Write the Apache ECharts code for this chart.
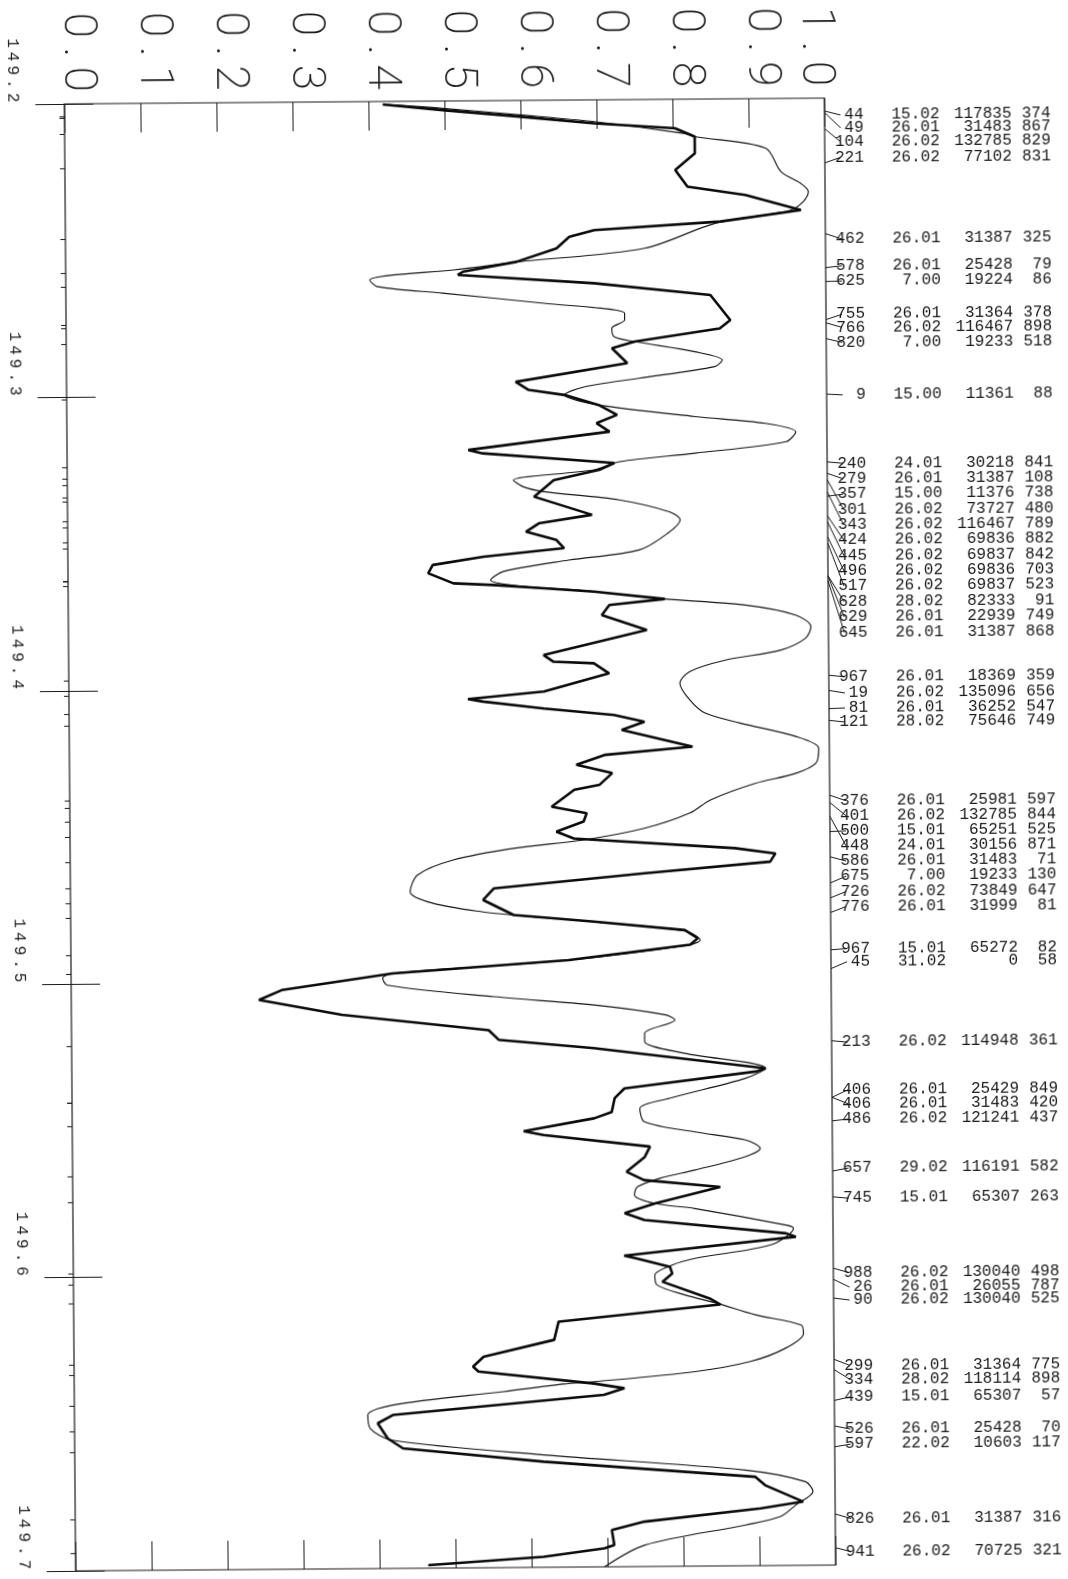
<!DOCTYPE html>
<html>
<head>
<meta charset="utf-8">
<script src="https://cdn.jsdelivr.net/npm/echarts@6.0.0/dist/echarts.min.js"></script>
<style>
  html, body { margin: 0; padding: 0; background: #fff; }
  #chart {
    position: absolute; left: 0; top: 0; width: 1068px; height: 1579px;
    transform: rotate(-0.44deg); transform-origin: 450px 834.5px;
  }
</style>
</head>
<body>
<div id="chart"></div>
<script>
// Observed profile (thick trace): residual intensity vs wavelength
const thickValue = [0.419,0.498,0.598,0.697,0.803,0.829,0.829,0.803,0.819,0.895,0.968,0.862,0.696,0.663,0.646,0.593,0.523,0.516,0.695,0.848,
  0.874,0.860,0.748,0.718,0.738,0.591,0.608,0.655,0.700,0.724,0.697,0.714,0.528,0.547,0.720,0.700,0.640,0.614,0.690,0.620,
  0.603,0.643,0.653,0.547,0.480,0.474,0.507,0.560,0.626,0.692,0.785,0.712,0.702,0.761,0.625,0.638,0.691,0.711,0.625,0.525,
  0.545,0.625,0.717,0.757,0.727,0.820,0.704,0.667,0.714,0.697,0.664,0.634,0.680,0.676,0.640,0.663,0.875,0.928,0.921,0.756,
  0.557,0.543,0.583,0.689,0.808,0.825,0.815,0.655,0.423,0.277,0.247,0.356,0.549,0.562,0.687,0.913,0.900,0.727,0.714,0.710,
  0.687,0.594,0.620,0.760,0.753,0.729,0.752,0.852,0.766,0.726,0.752,0.938,0.951,0.725,0.742,0.785,0.788,0.775,0.837,0.851,
  0.638,0.632,0.539,0.525,0.532,0.684,0.724,0.697,0.419,0.399,0.412,0.432,0.617,0.895,0.908,0.958,0.902,0.749,0.706,0.709,
  0.696,0.616,0.464];
const thickWl = [149.2010,149.2031,149.2055,149.2080,149.2099,149.2128,149.2185,149.2241,149.2298,149.2328,149.2381,149.2418,149.2444,149.2466,149.2505,149.2550,149.2582,149.2593,149.2625,149.2668,
  149.2754,149.2782,149.2825,149.2847,149.2898,149.2959,149.2987,149.3005,149.3040,149.3074,149.3102,149.3131,149.3190,149.3202,149.3238,149.3261,149.3295,149.3351,149.3414,149.3442,
  149.3470,149.3499,149.3527,149.3554,149.3581,149.3609,149.3644,149.3651,149.3663,149.3676,149.3703,149.3722,149.3756,149.3808,149.3891,149.3914,149.3920,149.3955,149.4015,149.4039,
  149.4048,149.4073,149.4097,149.4121,149.4148,149.4207,149.4233,149.4266,149.4295,149.4335,149.4351,149.4408,149.4431,149.4459,149.4493,149.4517,149.4554,149.4573,149.4601,149.4637,
  149.4685,149.4724,149.4776,149.4801,149.4832,149.4860,149.4882,149.4931,149.4972,149.5026,149.5059,149.5112,149.5168,149.5201,149.5232,149.5305,149.5316,149.5370,149.5403,149.5450,
  149.5471,149.5513,149.5527,149.5569,149.5604,149.5654,149.5683,149.5708,149.5763,149.5795,149.5819,149.5868,149.5880,149.5940,149.5950,149.5979,149.6002,149.6030,149.6088,149.6109,
  149.6163,149.6225,149.6281,149.6314,149.6331,149.6375,149.6392,149.6414,149.6477,149.6505,149.6557,149.6591,149.6640,149.6697,149.6726,149.6783,149.6805,149.6847,149.6875,149.6926,
  149.6937,149.6964,149.6990];

// Synthetic profile (thin trace)
const thinValue = [0.419,0.498,0.598,0.697,0.816,0.829,0.922,0.942,0.968,0.978,0.971,0.955,0.935,0.855,0.762,0.596,0.510,0.430,0.400,0.410,
  0.496,0.629,0.735,0.735,0.718,0.721,0.748,0.827,0.863,0.853,0.753,0.681,0.655,0.700,0.827,0.919,0.959,0.946,0.826,0.727,
  0.693,0.587,0.600,0.627,0.726,0.792,0.806,0.789,0.752,0.659,0.573,0.556,0.586,0.692,0.785,0.891,0.957,0.977,0.970,0.937,
  0.864,0.817,0.804,0.817,0.837,0.883,0.956,0.986,0.982,0.955,0.902,0.843,0.816,0.756,0.676,0.583,0.504,0.457,0.447,0.477,
  0.543,0.590,0.689,0.808,0.828,0.815,0.655,0.423,0.410,0.416,0.556,0.688,0.781,0.794,0.754,0.754,0.807,0.913,0.886,0.786,
  0.747,0.753,0.819,0.886,0.905,0.885,0.819,0.773,0.743,0.739,0.766,0.818,0.938,0.948,0.918,0.818,0.788,0.765,0.768,0.804,
  0.847,0.897,0.957,0.960,0.936,0.890,0.817,0.684,0.644,0.565,0.419,0.386,0.389,0.418,0.617,0.882,0.961,0.971,0.948,0.928,
  0.882,0.749,0.696];
const thinWl = [149.2010,149.2025,149.2049,149.2074,149.2117,149.2128,149.2169,149.2249,149.2290,149.2318,149.2353,149.2381,149.2391,149.2424,149.2507,149.2550,149.2576,149.2592,149.2608,149.2631,
  149.2655,149.2692,149.2728,149.2751,149.2779,149.2808,149.2825,149.2861,149.2890,149.2912,149.2950,149.2978,149.3005,149.3040,149.3082,149.3107,149.3137,149.3170,149.3207,149.3234,
  149.3261,149.3294,149.3317,149.3334,149.3364,149.3406,149.3434,149.3480,149.3535,149.3568,149.3605,149.3634,149.3652,149.3676,149.3703,149.3726,149.3761,149.3801,149.3840,149.3880,
  149.3913,149.3951,149.3991,149.4048,149.4093,149.4128,149.4175,149.4216,149.4267,149.4301,149.4334,149.4389,149.4433,149.4484,149.4522,149.4549,149.4587,149.4637,149.4694,149.4734,
  149.4765,149.4778,149.4801,149.4835,149.4866,149.4882,149.4931,149.4972,149.4988,149.5012,149.5054,149.5085,149.5120,149.5138,149.5183,149.5211,149.5252,149.5305,149.5339,149.5405,
  149.5439,149.5484,149.5520,149.5549,149.5578,149.5606,149.5650,149.5677,149.5706,149.5733,149.5763,149.5781,149.5840,149.5851,149.5907,149.5951,149.5973,149.6007,149.6041,149.6075,
  149.6105,149.6145,149.6181,149.6210,149.6260,149.6304,149.6337,149.6369,149.6376,149.6400,149.6443,149.6477,149.6522,149.6563,149.6617,149.6674,149.6715,149.6749,149.6795,149.6833,
  149.6861,149.6927,149.7000];

// Identified lines: where each leader meets the frame, where its label row sits, and the four label columns
const lineWl = [149.2044,149.2049,149.2104,149.2221,149.2462,149.2578,149.2625,149.2755,149.2766,149.2820,149.3009,
  149.3240,149.3279,149.3357,149.3301,149.3343,149.3424,149.3445,149.3496,149.3517,149.3628,149.3629,149.3645,
  149.3967,149.4019,149.4081,149.4121,
  149.4376,149.4401,149.4500,149.4448,149.4586,149.4675,149.4726,149.4776,
  149.4903,149.4967,149.5213,149.5406,149.5406,149.5486,149.5657,149.5745,
  149.5988,149.6026,149.6090,149.6299,149.6334,149.6439,149.6526,149.6597,149.6826,149.6941];
const labelWl = [149.2058,149.2102,149.2150,149.2202,149.2480,149.2572,149.2624,149.2737,149.2782,149.2833,149.3012,
  149.3245,149.3298,149.3350,149.3402,149.3455,149.3507,149.3560,149.3612,149.3664,149.3717,149.3769,149.3822,
  149.3973,149.4028,149.4079,149.4127,
  149.4395,149.4446,149.4498,149.4549,149.4601,149.4652,149.4704,149.4755,
  149.4899,149.4944,149.5218,149.5380,149.5428,149.5480,149.5647,149.5750,
  149.6004,149.6053,149.6097,149.6320,149.6368,149.6427,149.6537,149.6588,149.6842,149.6955];
const lineTag = ['44','49','104','221','462','578','625','755','766','820','9',
  '240','279','357','301','343','424','445','496','517','628','629','645',
  '967','19','81','121',
  '376','401','500','448','586','675','726','776',
  '967','45','213','406','406','486','657','745',
  '988','26','90','299','334','439','526','597','826','941'];
const lineDate = ['15.02','26.01','26.02','26.02','26.01','26.01','7.00','26.01','26.02','7.00','15.00',
  '24.01','26.01','15.00','26.02','26.02','26.02','26.02','26.02','26.02','28.02','26.01','26.01',
  '26.01','26.02','26.01','28.02',
  '26.01','26.02','15.01','24.01','26.01','7.00','26.02','26.01',
  '15.01','31.02','26.02','26.01','26.01','26.02','29.02','15.01',
  '26.02','26.01','26.02','26.01','28.02','15.01','26.01','22.02','26.01','26.02'];
const lineCode = ['117835','31483','132785','77102','31387','25428','19224','31364','116467','19233','11361',
  '30218','31387','11376','73727','116467','69836','69837','69836','69837','82333','22939','31387',
  '18369','135096','36252','75646',
  '25981','132785','65251','30156','31483','19233','73849','31999',
  '65272','0','114948','25429','31483','121241','116191','65307',
  '130040','26055','130040','31364','118114','65307','25428','10603','31387','70725'];
const lineLevel = ['374','867','829','831','325','79','86','378','898','518','88',
  '841','108','738','480','789','882','842','703','523','91','749','868',
  '359','656','547','749',
  '597','844','525','871','71','130','647','81',
  '82','58','361','849','420','437','582','263',
  '498','787','525','775','898','57','70','117','316','321'];

const MONO = '"Liberation Mono", "DejaVu Sans Mono", monospace';
const THIN = 'Roboto, "DejaVu Sans", sans-serif';
const INK = '#1a1a1a';

// plotter-style letter spacing: one rich token per character
function spaced(str, key) {
  return str.split('').map(ch => '{' + key + '|' + ch + '}').join('');
}
const bigRich = { b: { fontFamily: THIN, fontWeight: 200, fontSize: 46, color: INK, width: 27, align: 'center' } };
const smallRich = { s: { fontFamily: MONO, fontSize: 16, color: INK, padding: [0, 2, 0, 2] } };
const tickStyle = { color: INK, width: 1 };

const chart = echarts.init(document.getElementById('chart'), null, { renderer: 'canvas' });

chart.setOption({
  animation: false,
  backgroundColor: '#ffffff',
  grid: { left: 70, top: 101, width: 760, height: 1467, show: true, borderColor: INK, borderWidth: 1.2 },
  xAxis: [
    {
      // top axis: ECharts mirrors the rotation sign here, so +90 reads top-to-bottom
      type: 'value', position: 'top', min: 0, max: 1, interval: 0.1,
      axisLine: { show: false }, splitLine: { show: false },
      axisTick: { show: true, inside: true, length: 29, lineStyle: tickStyle },
      axisLabel: {
        rotate: 90, align: 'right', verticalAlign: 'middle', margin: 11,
        padding: [0, 0, 24, 0], fontFamily: THIN, fontWeight: 200, fontSize: 46, color: INK,
        formatter: v => (v > 0.95 ? '' : spaced(v.toFixed(1), 'b')), rich: bigRich
      }
    },
    {
      type: 'value', position: 'top', min: 0, max: 1, interval: 0.1,
      axisLine: { show: false }, splitLine: { show: false }, axisTick: { show: false },
      axisLabel: {
        rotate: 90, align: 'right', verticalAlign: 'middle', margin: 11,
        padding: [20, 0, 0, 0], fontFamily: THIN, fontWeight: 200, fontSize: 46, color: INK,
        formatter: v => (v > 0.95 ? spaced('1.0', 'b') : ''), rich: bigRich
      }
    },
    {
      type: 'value', position: 'bottom', min: 0, max: 1, interval: 0.1,
      axisLine: { show: false }, splitLine: { show: false },
      axisTick: { show: true, inside: true, length: 29, lineStyle: tickStyle },
      axisLabel: { show: false }
    }
  ],
  yAxis: [
    {
      type: 'value', position: 'left', inverse: true, min: 149.2, max: 149.7, interval: 0.1,
      axisLine: { show: false }, splitLine: { show: false },
      axisTick: { show: true, inside: true, length: 29, lineStyle: tickStyle },
      axisLabel: {
        rotate: -90, align: 'right', verticalAlign: 'middle', margin: 52,
        fontFamily: MONO, fontSize: 16, color: INK,
        formatter: v => spaced(v.toFixed(1), 's'), rich: smallRich
      }
    },
    {
      type: 'value', position: 'right', inverse: true, min: 149.2, max: 149.7, interval: 0.1,
      axisLine: { show: false }, splitLine: { show: false },
      axisTick: { show: true, inside: true, length: 29, lineStyle: tickStyle },
      axisLabel: { show: false }
    }
  ],
  series: [
    {
      name: 'synthetic', type: 'line', xAxisIndex: 0, yAxisIndex: 0,
      data: thinValue.map((v, i) => [v, thinWl[i]]),
      symbol: 'none', smooth: 0.3, z: 2,
      lineStyle: { color: '#151515', width: 1.15 }
    },
    {
      name: 'observed', type: 'line', xAxisIndex: 0, yAxisIndex: 0,
      data: thickValue.map((v, i) => [v, thickWl[i]]),
      symbol: 'none', smooth: false, z: 3,
      lineStyle: { color: '#0a0a0a', width: 2.6 }
    },
    {
      // short outward marks on the left frame at every identified line
      name: 'line marks', type: 'custom', xAxisIndex: 0, yAxisIndex: 0, clip: false, silent: true, z: 4,
      data: lineWl.map(w => [0, w]),
      encode: { x: 0, y: 1 },
      renderItem: (params, api) => {
        const p = api.coord([0, api.value(1)]);
        return { type: 'line', shape: { x1: p[0] - 5, y1: p[1], x2: p[0], y2: p[1] },
                 style: { stroke: INK, lineWidth: 1 } };
      }
    },
    {
      // identification table with leaders from the right frame
      name: 'identifications', type: 'custom', xAxisIndex: 0, yAxisIndex: 0, clip: false, silent: true, z: 5,
      data: lineWl.map((w, i) => [1, labelWl[i], w, i]),
      encode: { x: 0, y: 1 },
      renderItem: (params, api) => {
        const i = api.value(3);
        const row = api.coord([1, api.value(1)]);
        const at = api.coord([1, api.value(2)]);
        const x0 = at[0];
        const cell = (txt, dx) => ({
          type: 'text', x: x0 + dx, y: row[1],
          style: { text: txt, fill: INK, fontFamily: MONO, fontSize: 16,
                   align: 'right', textAlign: 'right', verticalAlign: 'middle', textVerticalAlign: 'middle' }
        });
        return {
          type: 'group',
          children: [
            { type: 'line', shape: { x1: x0, y1: at[1], x2: x0 + 16, y2: row[1] }, style: { stroke: INK, lineWidth: 1 } },
            cell(lineTag[i], 39), cell(lineDate[i], 115), cell(lineCode[i], 187), cell(lineLevel[i], 226)
          ]
        };
      }
    }
  ]
});
</script>
</body>
</html>
